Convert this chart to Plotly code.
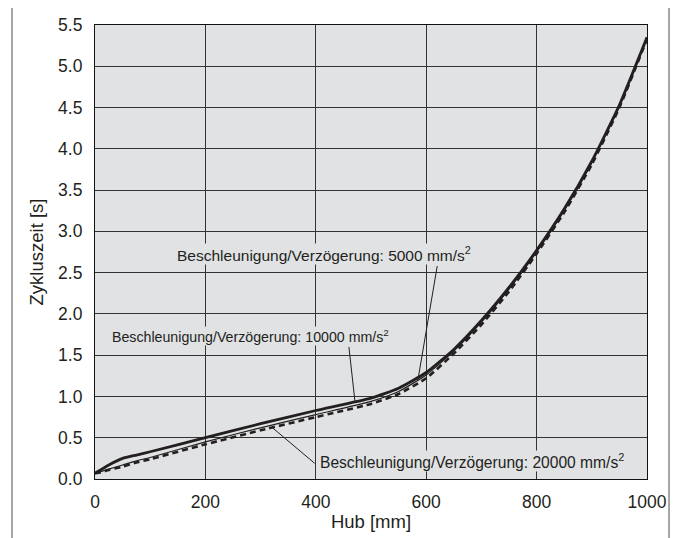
import numpy as np
import plotly.graph_objects as go

# ---- data ----
hub = [0, 10, 25, 50, 75, 100, 200, 300, 400, 500, 550, 600, 650, 700, 750, 800, 850, 900, 950, 1000]
t_10000 = [0.07, 0.11, 0.17, 0.25, 0.29, 0.33, 0.50, 0.67, 0.83, 0.98, 1.10, 1.29, 1.57, 1.92, 2.32, 2.77, 3.27, 3.85, 4.53, 5.35]
t_5000 = [0.07, 0.09, 0.12, 0.17, 0.22, 0.26, 0.45, 0.62, 0.78, 0.94, 1.06, 1.26, 1.55, 1.90, 2.30, 2.75, 3.25, 3.83, 4.52, 5.35]
t_20000 = [0.07, 0.08, 0.11, 0.15, 0.20, 0.24, 0.42, 0.59, 0.75, 0.91, 1.03, 1.22, 1.52, 1.87, 2.27, 2.73, 3.23, 3.81, 4.50, 5.33]

x_ticks = [0, 200, 400, 600, 800, 1000]
y_ticks = [0.0, 0.5, 1.0, 1.5, 2.0, 2.5, 3.0, 3.5, 4.0, 4.5, 5.0, 5.5]
y_ticklabels = ["0.0", "0.5", "1.0", "1.5", "2.0", "2.5", "3.0", "3.5", "4.0", "4.5", "5.0", "5.5"]

label_5000 = "Beschleunigung/Verzögerung: 5000 mm/s<sup>2</sup>"
label_10000 = "Beschleunigung/Verzögerung: 10000 mm/s<sup>2</sup>"
label_20000 = "Beschleunigung/Verzögerung: 20000 mm/s<sup>2</sup>"

FONT = "Liberation Sans, Arial, sans-serif"
INK = "#231f20"
BG = "#e1e2e4"

fig = go.Figure()
fig.add_trace(go.Scatter(x=hub, y=t_20000, mode="lines",
                         line=dict(color=INK, width=2.6, dash="6px,4px", shape="spline", smoothing=0.5),
                         showlegend=False, hoverinfo="skip"))
fig.add_trace(go.Scatter(x=hub, y=t_5000, mode="lines",
                         line=dict(color=INK, width=1.2, shape="spline", smoothing=0.5),
                         showlegend=False, hoverinfo="skip"))
fig.add_trace(go.Scatter(x=hub, y=t_10000, mode="lines",
                         line=dict(color=INK, width=2.8, shape="spline", smoothing=0.5),
                         showlegend=False, hoverinfo="skip"))

# pointer lines (tip on the curve)
def pointer(x_from, y_from, x_tip, series):
    y_tip = float(np.interp(x_tip, hub, series))
    fig.add_shape(type="line", xref="x", yref="y", x0=x_from, y0=y_from, x1=x_tip, y1=y_tip,
                  line=dict(color=INK, width=1), layer="above")

pointer(620, 2.58, 585, t_5000)
pointer(460, 1.60, 471, t_10000)
pointer(398, 0.19, 321, t_20000)

fig.add_annotation(x=147, y=2.72, xref="x", yref="y", text=label_5000, showarrow=False,
                   xanchor="left", yanchor="middle", font=dict(family=FONT, size=15.5, color=INK),
                   bgcolor=BG, borderpad=0)
fig.add_annotation(x=29, y=1.73, xref="x", yref="y", text=label_10000, showarrow=False,
                   xanchor="left", yanchor="middle", font=dict(family=FONT, size=14.2, color=INK),
                   bgcolor=BG, borderpad=0)
fig.add_annotation(x=406, y=0.22, xref="x", yref="y", text=label_20000, showarrow=False,
                   xanchor="left", yanchor="middle", font=dict(family=FONT, size=15.6, color=INK),
                   bgcolor=BG, borderpad=0)

# outer frame (open at bottom, extends past canvas)
fig.add_shape(type="rect", xref="paper", yref="paper", x0=-0.1504, x1=1.0399, y0=-0.3, y1=1.0463,
              line=dict(color="#8a8a8a", width=1.5), layer="below")

fig.update_xaxes(range=[0, 1000], tickvals=x_ticks, showgrid=True, gridcolor="#333333", gridwidth=1,
                 zeroline=False, showline=True, linecolor="#111111", linewidth=1.2, mirror=True,
                 automargin=False,
                 ticks="", ticklabelstandoff=7, tickfont=dict(family=FONT, size=17.5, color=INK),
                 title=dict(text="Hub [mm]", font=dict(family=FONT, size=18.5, color=INK), standoff=3))
fig.update_yaxes(range=[0, 5.5], tickvals=y_ticks, ticktext=y_ticklabels, showgrid=True, gridcolor="#333333",
                 gridwidth=1, zeroline=False, showline=True, linecolor="#111111", linewidth=1.2, mirror=True,
                 automargin=False,
                 ticks="", ticklabelstandoff=8, tickfont=dict(family=FONT, size=17.5, color=INK),
                 title=dict(text="Zykluszeit [s]", font=dict(family=FONT, size=18.5, color=INK), standoff=9))

# page body has an 8px margin, so the figure is 670x530 placed at (8,8)
fig.update_layout(width=670, height=530, margin=dict(l=87, r=31, t=17, b=59, autoexpand=False),
                  plot_bgcolor=BG, paper_bgcolor="white", showlegend=False)

fig.write_html("out.html")
